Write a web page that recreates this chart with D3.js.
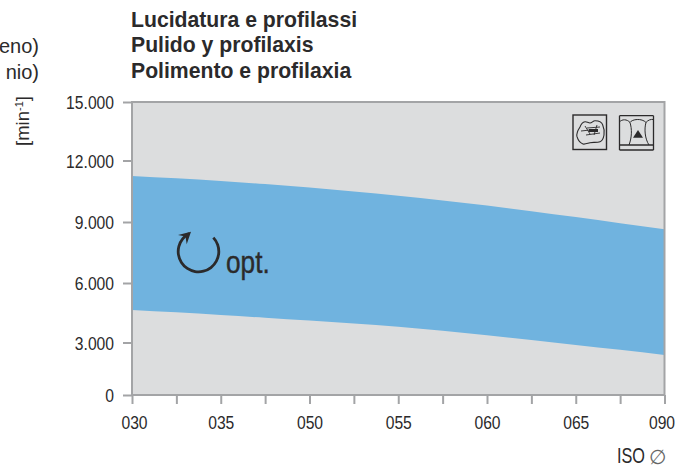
<!DOCTYPE html>
<html><head><meta charset="utf-8">
<script src="https://cdn.jsdelivr.net/npm/d3@7"></script>
<style>
html,body{margin:0;padding:0;background:#fff;overflow:hidden}
svg{display:block}
text{font-family:"Liberation Sans",Arial,sans-serif;fill:#2b2a2b}
</style></head><body>
<script>
const isoLabels = ["030","","035","","050","","055","","060","","065","","090"];
const speedUpper = [11244,11129,10999,10849,10679,10489,10279,10049,9799,9529,9244,8944,8641];
const speedLower = [4639,4519,4389,4249,4104,3954,3796,3596,3371,3125,2860,2580,2285];
const yTicks = [0,3000,6000,9000,12000,15000];
const yPixels = [395,342.5,283,222,160.5,102];
const titles = ["Lucidatura e profilassi","Pulido y profilaxis","Polimento e profilaxia"];
const clipped = ["eno)","nio)"];

const W=690,H=468,L=132,R=664.5,T=102,B=395;
const GRAY="#a3a4a6",BG="#dcddde",BLUE="#70b3df",INK="#2b2a2b";
const svg=d3.select("body").append("svg").attr("width",W).attr("height",H);
const x=d3.scalePoint().domain(d3.range(isoLabels.length)).range([L,R]);
const y=d3.scaleLinear().domain(yTicks).range(yPixels);
const fmt=v=>d3.format(",")(v).replace(/,/g,".");
const sx=.87;

svg.append("rect").attr("x",L).attr("y",T).attr("width",R-L).attr("height",B-T).attr("fill",BG);

const area=d3.area().x((d,i)=>x(i)).y0((d,i)=>y(speedLower[i])).y1(d=>y(d)).curve(d3.curveMonotoneX);
svg.append("path").datum(speedUpper).attr("d",area).attr("fill",BLUE);

svg.append("rect").attr("x",L).attr("y",T).attr("width",R-L).attr("height",B-T)
  .attr("fill","none").attr("stroke",GRAY).attr("stroke-width",2);

const gy=svg.append("g").attr("transform",`translate(${L},0)`)
  .call(d3.axisLeft(y).tickValues(yTicks).tickFormat(fmt).tickSize(9).tickPadding(9));
const gx=svg.append("g").attr("transform",`translate(0,${B})`)
  .call(d3.axisBottom(x).tickFormat(i=>isoLabels[i]).tickSize(9).tickPadding(17));
[gy,gx].forEach(g=>{
  g.select(".domain").remove();
  g.selectAll("line").attr("stroke",GRAY).attr("stroke-width",2);
  g.selectAll("text").attr("fill",INK).style("font-size","18px");
});
gy.selectAll("text").attr("dy",null).attr("text-anchor","end")
  .attr("transform",`translate(-18,6.5) scale(${sx},1)`).attr("x",0).attr("y",0);
gx.selectAll("text").attr("dy",null).attr("y",0)
  .attr("transform",(d,i)=>`translate(${i===0?2:i===12?-3:0},34) scale(${sx},1)`);

svg.selectAll(".title").data(titles).join("text").attr("class","title")
  .attr("x",131).attr("y",(d,i)=>26.5+i*25.8).text(d=>d)
  .style("font-size","21.2px").style("font-weight","700");

svg.selectAll(".clip").data(clipped).join("text").attr("class","clip")
  .attr("text-anchor","end").attr("x",39).attr("y",(d,i)=>53+i*25.5).text(d=>d)
  .style("font-size","20px");

const unit=svg.append("text").attr("transform","translate(29,121) rotate(-90)").attr("text-anchor","middle").style("font-size","18.5px");
unit.append("tspan").text("[min");
unit.append("tspan").attr("dy",-6).style("font-size","11px").text("-1");
unit.append("tspan").attr("dy",6).text("]");

svg.append("text").attr("transform","translate(226,273) scale(.82,1)").style("font-size","32px").style("stroke","#2b2a2b").style("stroke-width",.4).text("opt.");

const arc=d3.arc().innerRadius(18.9).outerRadius(21.7).startAngle(0.82).endAngle(2*Math.PI-0.48);
svg.append("path").attr("d",arc).attr("transform","translate(198.5,251.5)").attr("fill",INK);
svg.append("path").attr("d","M178,235 L191,231.7 L186.7,244.3 L185.5,236.5 Z").attr("fill",INK);

svg.append("text").attr("transform","translate(617,463) scale(.74,1)").style("font-size","22px").text("ISO");
svg.append("text").attr("x",649).attr("y",464).style("font-size","20px").style("font-family","DejaVu Sans").style("fill","#666").text("∅");

const ic=svg.append("g").attr("fill","none").attr("stroke",INK);
ic.append("rect").attr("x",573).attr("y",115).attr("width",33.5).attr("height",34.5).attr("stroke-width",1.4);
ic.append("path").attr("stroke-width",1.1).attr("d","M580,127 C581,124 583,122 585,121.7 C587,121.5 588,123 590,123 C592,123 593,120.7 595,120.7 C599,120.7 602,122 602.7,125 C604,128 604.5,132 604,135 C603.5,138 602,141 600,141.7 C597,143 593,142 590,142.7 C587,143.5 585,144.5 583,144 C580,143 578,140 577,136.7 C576,133 578,130 580,127 Z");
ic.append("path").attr("stroke-width",.9).attr("d","M581,131 L590,130 M585,126 L590,134 M597,125 L594,135 M586,135 L600,133 M587,128 L600,127");
ic.append("path").attr("stroke-width",3).attr("d","M589,130.5 L598,130.5");
ic.append("path").attr("stroke-width",1.3).attr("d","M619.5,115.7 H653.5 M619.5,150 H653.5 M619.5,115.7 V150 M653.5,115.7 V150 M619.5,145 H653.5");
ic.append("path").attr("stroke-width",1).attr("d","M619.5,122 C622,119 627,119 630,122.5 C632,119 642,118 646,122.5 C648,120 651,119 653.5,119.5 M630,122.5 C632,129 632,137 629,145 M646,122.5 C644,129 645,139 649,145");
svg.append("path").attr("d","M638,130 L643,137.7 H633 Z").attr("fill",INK);
</script></body></html>
